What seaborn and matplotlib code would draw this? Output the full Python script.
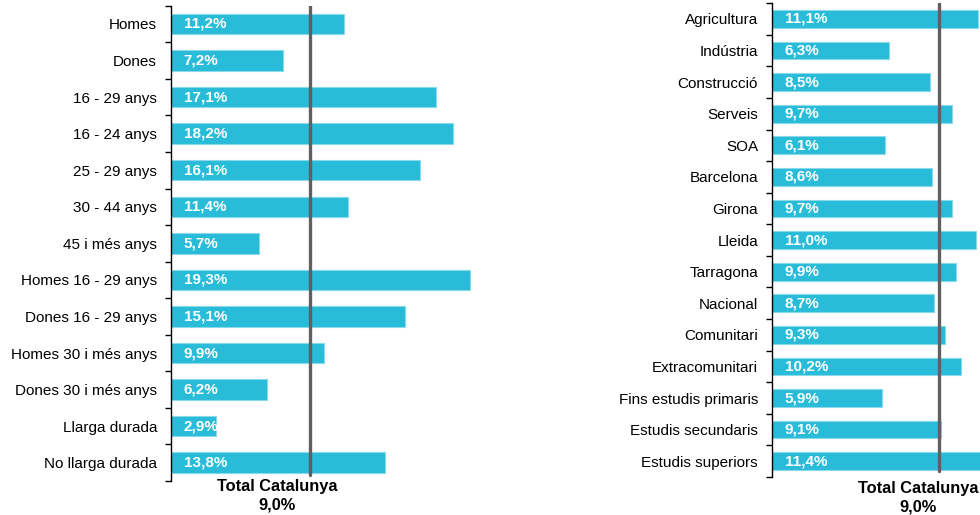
import matplotlib
matplotlib.use("Agg")
import matplotlib.pyplot as plt
import seaborn as sns
import pandas as pd
import numpy as np

# ---- data ----
left_cats = ["Homes", "Dones", "16 - 29 anys", "16 - 24 anys", "25 - 29 anys",
             "30 - 44 anys", "45 i més anys", "Homes 16 - 29 anys",
             "Dones 16 - 29 anys", "Homes 30 i més anys", "Dones 30 i més anys",
             "Llarga durada", "No llarga durada"]
left_vals = [11.2, 7.2, 17.1, 18.2, 16.1, 11.4, 5.7, 19.3, 15.1, 9.9, 6.2, 2.9, 13.8]

right_cats = ["Agricultura", "Indústria", "Construcció", "Serveis", "SOA",
              "Barcelona", "Girona", "Lleida", "Tarragona", "Nacional",
              "Comunitari", "Extracomunitari", "Fins estudis primaris",
              "Estudis secundaris", "Estudis superiors"]
right_vals = [11.1, 6.3, 8.5, 9.7, 6.1, 8.6, 9.7, 11.0, 9.9, 8.7, 9.3, 10.2, 5.9, 9.1, 11.4]

total_value = 9.0
total_label = "Total Catalunya"

sns.set_theme(style="white")
plt.rcParams["font.family"] = ["Liberation Sans", "DejaVu Sans"]

BAR = "#29BCD9"
EDGE = "#8ad9ea"
W, H = 980, 515
fig = plt.figure(figsize=(W / 100, H / 100), dpi=100)


def fmt(v):
    return f"{v:.1f}".replace(".", ",") + "%"


def panel(rect, cats, vals, xmax, text_xy):
    ax = fig.add_axes(rect)
    df = pd.DataFrame({"cat": cats, "val": vals})
    sns.barplot(data=df, x="val", y="cat", ax=ax, color=BAR, width=0.56,
                edgecolor=EDGE, linewidth=0.8, saturation=1)
    ax.set_xlim(0, xmax)
    ax.set_ylim(len(cats) - 0.5, -0.5)
    ax.set_xlabel("")
    ax.set_ylabel("")
    ax.set_xticks([])
    for s in ["top", "right", "bottom"]:
        ax.spines[s].set_visible(False)
    ax.spines["left"].set_color("black")
    ax.spines["left"].set_linewidth(1.0)
    ax.tick_params(axis="y", which="major", length=0, pad=10, labelsize=11,
                   labelcolor="black")
    ax.set_yticks(np.arange(-0.5, len(cats), 1.0), minor=True)
    ax.tick_params(axis="y", which="minor", length=4, width=1.0, color="black",
                   direction="out", left=True)
    for i, v in enumerate(vals):
        ax.annotate(fmt(v), xy=(0, i), xytext=(9, 0), textcoords="offset points",
                    ha="left", va="center", color="white", fontsize=11,
                    fontweight="bold", clip_on=True)
    ax.axvline(total_value, ymin=0.012, ymax=1.0, color="#606060", lw=2.4, zorder=5)
    tx, ty = text_xy
    fig.text(tx / W, 1 - ty / H, total_label, ha="center", va="center",
             fontsize=11.8, fontweight="bold", color="black")
    fig.text(tx / W, 1 - (ty + 18) / H, fmt(total_value), ha="center",
             va="center", fontsize=11.8, fontweight="bold", color="black")
    return ax


# left panel: axis x=171, 15.49 px/unit, y from 5.7 to 481
panel([171 / W, 1 - 481 / H, (20 * 15.49) / W, (481 - 5.7) / H],
      left_cats, left_vals, 20, (277, 487))
# right panel: axis x=772, 18.57 px/unit, y from 3.2 to 477
panel([772 / W, 1 - 477 / H, (12 * 18.57) / W, (477 - 3.2) / H],
      right_cats, right_vals, 12, (918, 489))

fig.savefig("out.png", dpi=100)
